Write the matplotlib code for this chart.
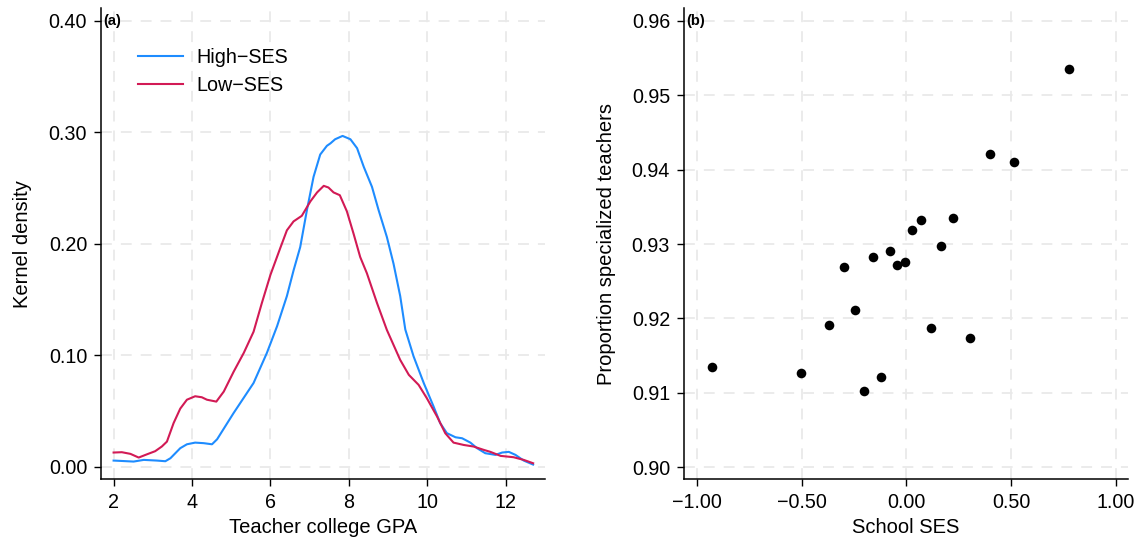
import numpy as np
import matplotlib
matplotlib.use("Agg")
import matplotlib.pyplot as plt

# (a) kernel density of teacher college GPA
high_x = [2.0, 2.51, 2.77, 3.1, 3.32, 3.45, 3.70, 3.87, 4.08, 4.30, 4.51, 4.64, 5.06, 5.57,
          5.91, 6.17, 6.42, 6.59, 6.76, 6.93, 7.10, 7.27, 7.44, 7.53, 7.65, 7.84, 8.04, 8.21,
          8.38, 8.59, 8.76, 8.97, 9.14, 9.31, 9.44, 9.65, 9.91, 10.16, 10.33, 10.50, 10.72,
          10.89, 11.10, 11.27, 11.48, 11.74, 11.91, 12.08, 12.25, 12.46, 12.70]
high_y = [0.0054, 0.0045, 0.006, 0.0054, 0.0048, 0.0075, 0.0165, 0.020, 0.0215, 0.021, 0.020,
          0.0245, 0.048, 0.075, 0.102, 0.126, 0.153, 0.176, 0.197, 0.230, 0.260, 0.280, 0.2878,
          0.290, 0.2937, 0.2967, 0.2937, 0.2857, 0.269, 0.251, 0.230, 0.206, 0.182, 0.153, 0.123,
          0.099, 0.075, 0.054, 0.039, 0.030, 0.0263, 0.0254, 0.0215, 0.0165, 0.012, 0.0105,
          0.0126, 0.0132, 0.0105, 0.0054, 0.0018]

low_x = [2.0, 2.21, 2.43, 2.64, 2.85, 3.06, 3.23, 3.36, 3.53, 3.70, 3.87, 4.08, 4.25, 4.38,
         4.62, 4.81, 5.06, 5.32, 5.57, 5.78, 6.0, 6.25, 6.42, 6.59, 6.80, 7.02, 7.19, 7.36,
         7.48, 7.61, 7.77, 7.95, 8.12, 8.29, 8.46, 8.72, 8.97, 9.31, 9.53, 9.78, 9.99, 10.25,
         10.46, 10.67, 10.93, 11.18, 11.44, 11.61, 11.87, 12.2, 12.46, 12.70]
low_y = [0.0126, 0.0129, 0.0114, 0.0081, 0.011, 0.0138, 0.018, 0.0224, 0.039, 0.052, 0.060,
         0.0631, 0.0622, 0.060, 0.0583, 0.0673, 0.085, 0.102, 0.121, 0.1466, 0.172, 0.196,
         0.212, 0.220, 0.225, 0.238, 0.246, 0.2519, 0.2504, 0.246, 0.2435, 0.229, 0.209, 0.188,
         0.1735, 0.1466, 0.1226, 0.0957, 0.0823, 0.0733, 0.0613, 0.0449, 0.0299, 0.0215,
         0.0194, 0.018, 0.015, 0.0132, 0.0096, 0.0084, 0.006, 0.003]

# (b) school SES vs proportion specialized teachers
ses = [-0.927, -0.505, -0.200, -0.120, -0.371, -0.246, -0.298, -0.161, -0.080, -0.044,
       -0.008, 0.029, 0.071, 0.224, 0.164, 0.117, 0.303, 0.398, 0.514, 0.775]
prop = [0.91352, 0.91269, 0.91029, 0.91209, 0.91915, 0.92118, 0.92695, 0.92820, 0.92912,
        0.92714, 0.92764, 0.93194, 0.93323, 0.93351, 0.92968, 0.91874, 0.91740, 0.94209,
        0.94108, 0.95354]

plt.rcParams['font.family'] = ['Liberation Sans', 'DejaVu Sans']
plt.rcParams['font.size'] = 14.5
plt.rcParams['xtick.labelsize'] = 14.2
plt.rcParams['ytick.labelsize'] = 14.2
plt.rcParams['axes.linewidth'] = 1.1
plt.rcParams['xtick.major.size'] = 5
plt.rcParams['ytick.major.size'] = 5
plt.rcParams['xtick.major.width'] = 1.0
plt.rcParams['ytick.major.width'] = 1.0

fig = plt.figure(figsize=(11.38, 5.39), dpi=100)
ax1 = fig.add_axes([0.0888, 0.111, 0.39, 0.874])
ax2 = fig.add_axes([0.601, 0.111, 0.39, 0.874])

blue = '#1e8cff'
red = '#d21a55'


def style(ax):
    ax.spines['top'].set_visible(False)
    ax.spines['right'].set_visible(False)
    ax.grid(True, color='#e9e9e9', linestyle=(0, (6, 5)), linewidth=1.3)
    ax.set_axisbelow(True)
    ax.tick_params(direction='out', pad=5)


style(ax1)
ax1.plot(high_x, high_y, color=blue, lw=1.5, label='High\u2212SES')
ax1.plot(low_x, low_y, color=red, lw=1.5, label='Low\u2212SES')
ax1.set_xlim(1.68, 13.0)
ax1.set_ylim(-0.0113, 0.4114)
ax1.set_xticks([2, 4, 6, 8, 10, 12])
ax1.set_yticks([0.0, 0.1, 0.2, 0.3, 0.4])
ax1.set_yticklabels(['%.2f' % v for v in [0.0, 0.1, 0.2, 0.3, 0.4]])
ax1.set_xlabel('Teacher college GPA', labelpad=4)
ax1.set_ylabel('Kernel density', labelpad=12)
ax1.legend(loc='upper left', bbox_to_anchor=(0.083, 0.915), frameon=False,
           fontsize=14.2, handlelength=2.3, handletextpad=0.65, labelspacing=0.45,
           borderpad=0, borderaxespad=0)
ax1.text(0.006, 0.973, '(a)', transform=ax1.transAxes, fontsize=10.5,
         fontweight='bold', ha='left', va='center')

style(ax2)
ax2.scatter(ses, prop, s=48, color='black', zorder=3, linewidths=0)
ax2.set_xlim(-1.062, 1.057)
ax2.set_ylim(0.8984, 0.9617)
ax2.set_xticks([-1.0, -0.5, 0.0, 0.5, 1.0])
ax2.set_xticklabels(['\u22121.00', '\u22120.50', '0.00', '0.50', '1.00'])
ax2.set_yticks([0.90, 0.91, 0.92, 0.93, 0.94, 0.95, 0.96])
ax2.set_yticklabels(['%.2f' % v for v in [0.90, 0.91, 0.92, 0.93, 0.94, 0.95, 0.96]])
ax2.set_xlabel('School SES', labelpad=4)
ax2.set_ylabel('Proportion specialized teachers', labelpad=11)
ax2.text(0.006, 0.973, '(b)', transform=ax2.transAxes, fontsize=10.5,
         fontweight='bold', ha='left', va='center')

fig.savefig('out.png', dpi=100)
